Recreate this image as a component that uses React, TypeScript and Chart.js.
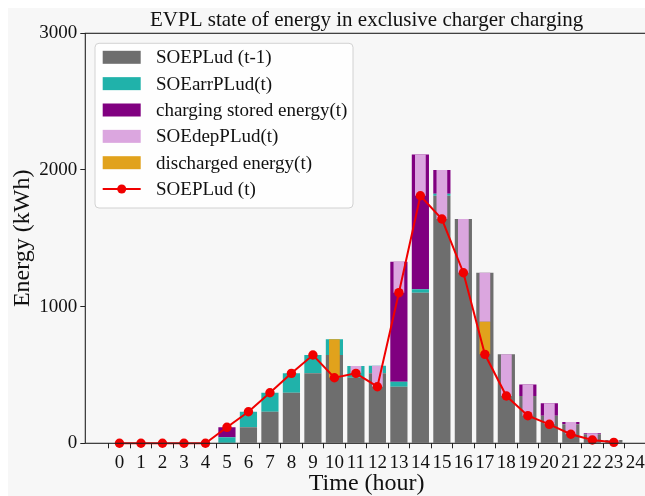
import React, { useEffect, useRef } from 'react';
import { Chart, registerables } from 'chart.js';

Chart.register(...registerables);

// ---- data ----
const hours = [0, 1, 2, 3, 4, 5, 6, 7, 8, 9, 10, 11, 12, 13, 14, 15, 16, 17, 18, 19, 20, 21, 22, 23];
const xTickValues = [0, 1, 2, 3, 4, 5, 6, 7, 8, 9, 10, 11, 12, 13, 14, 15, 16, 17, 18, 19, 20, 21, 22, 23, 24];
const yTickValues = [0, 1000, 2000, 3000];

const soePrev = [0, 0, 0, 0, 0, 0, 117, 231, 370, 512, 646, 480, 512, 414, 1102, 1811, 1641, 1248, 651, 346, 202, 139, 66, 24];
const soeArr = [0, 0, 0, 0, 0, 44, 114, 139, 142, 134, 115, 85, 56, 37, 25, 15, 0, 0, 0, 0, 0, 0, 0, 0];
const chargeStored = [0, 0, 0, 0, 0, 73, 0, 0, 0, 0, 0, 0, 0, 877, 987, 174, 0, 0, 0, 85, 91, 17, 7, 0];
const soeDep = [0, 0, 0, 0, 0, 0, 0, 0, 0, 0, 0, 53, 154, 226, 303, 359, 393, 358, 305, 229, 154, 90, 49, 17];
const discharged = [0, 0, 0, 0, 0, 0, 0, 0, 0, 0, 281, 0, 0, 0, 0, 0, 0, 239, 0, 0, 0, 0, 0, 0];
const soeNow = [0, 0, 0, 0, 0, 117, 231, 370, 512, 646, 480, 512, 414, 1102, 1811, 1641, 1248, 651, 346, 202, 139, 66, 24, 7];

const titleText = 'EVPL state of energy in exclusive charger charging';
const xTitle = 'Time (hour)';
const yTitle = 'Energy (kWh)';
const labelPrev = 'SOEPLud (t-1)';
const labelArr = 'SOEarrPLud(t)';
const labelCharge = 'charging stored energy(t)';
const labelDep = 'SOEdepPLud(t)';
const labelDis = 'discharged energy(t)';
const labelNow = 'SOEPLud (t)';

const FONT = '"Liberation Serif", "Times New Roman", serif';

const pts = (vals: number[]) => hours.map((h, i) => ({ x: h, y: vals[i] }));

const bgPlugin = {
  id: 'bgFill',
  beforeDraw(chart: any) {
    const ctx = chart.ctx;
    ctx.save();
    ctx.fillStyle = '#f7f7f7';
    ctx.fillRect(0, 0, chart.width, chart.height);
    ctx.restore();
  },
};

const framePlugin = {
  id: 'frame',
  afterDatasetsDraw(chart: any) {
    const { ctx, chartArea: ca } = chart;
    ctx.save();
    ctx.strokeStyle = '#222';
    ctx.lineWidth = 1.1;
    ctx.strokeRect(ca.left, ca.top, ca.right - ca.left, ca.bottom - ca.top);
    ctx.restore();
  },
};

const legendPlugin = {
  id: 'boxLegend',
  afterDraw(chart: any) {
    const { ctx, chartArea: ca } = chart;
    const items = chart.data.datasets
      .filter((d: any) => d.legendRank !== undefined)
      .sort((a: any, b: any) => a.legendRank - b.legendRank);
    const x0 = ca.left + 9.7;
    const y0 = ca.top + 10;
    const w = 258;
    const h = 164.7;
    const r = 4;
    ctx.save();
    ctx.beginPath();
    ctx.moveTo(x0 + r, y0);
    ctx.lineTo(x0 + w - r, y0);
    ctx.quadraticCurveTo(x0 + w, y0, x0 + w, y0 + r);
    ctx.lineTo(x0 + w, y0 + h - r);
    ctx.quadraticCurveTo(x0 + w, y0 + h, x0 + w - r, y0 + h);
    ctx.lineTo(x0 + r, y0 + h);
    ctx.quadraticCurveTo(x0, y0 + h, x0, y0 + h - r);
    ctx.lineTo(x0, y0 + r);
    ctx.quadraticCurveTo(x0, y0, x0 + r, y0);
    ctx.closePath();
    ctx.fillStyle = 'rgba(255,255,255,0.8)';
    ctx.fill();
    ctx.strokeStyle = '#d2d2d2';
    ctx.lineWidth = 1;
    ctx.stroke();
    items.forEach((d: any, i: number) => {
      const cy = y0 + 14 + i * 26.35;
      const px = x0 + 7.7;
      if (d.type === 'line') {
        ctx.strokeStyle = d.borderColor;
        ctx.lineWidth = 2;
        ctx.beginPath();
        ctx.moveTo(px, cy);
        ctx.lineTo(px + 38, cy);
        ctx.stroke();
        ctx.fillStyle = d.pointBackgroundColor;
        ctx.beginPath();
        ctx.arc(px + 19, cy, 4.5, 0, Math.PI * 2);
        ctx.fill();
      } else {
        ctx.fillStyle = d.backgroundColor;
        ctx.fillRect(px, cy - 6.5, 38, 13);
      }
      ctx.fillStyle = '#111';
      ctx.font = `19px ${FONT}`;
      ctx.textBaseline = 'middle';
      ctx.textAlign = 'left';
      ctx.fillText(d.label, x0 + 61, cy + 1);
    });
    ctx.restore();
  },
};

export default function App() {
  const ref = useRef<HTMLCanvasElement | null>(null);

  useEffect(() => {
    const canvas = ref.current;
    if (!canvas) return;
    const full = { categoryPercentage: 1, barPercentage: 0.8, grouped: false, borderWidth: 0, stack: 'full', order: 2 };
    const narrow = { categoryPercentage: 1, barPercentage: 0.5, grouped: false, borderWidth: 0, stack: 'narrow', order: 1 };
    const chart = new Chart(canvas, {
      type: 'bar',
      data: {
        datasets: [
          { ...full, label: labelPrev, legendRank: 0, data: pts(soePrev), backgroundColor: '#6e6e6e' },
          { ...full, label: labelArr, legendRank: 1, data: pts(soeArr), backgroundColor: '#20b2aa' },
          { ...full, label: labelCharge, legendRank: 2, data: pts(chargeStored), backgroundColor: '#800080' },
          { ...narrow, label: 'base', data: pts(soeNow), backgroundColor: 'rgba(0,0,0,0)' },
          { ...narrow, label: labelDis, legendRank: 4, data: pts(discharged), backgroundColor: '#e1a21c' },
          { ...narrow, label: labelDep, legendRank: 3, data: pts(soeDep), backgroundColor: '#dba6df' },
          {
            type: 'line',
            label: labelNow,
            legendRank: 5,
            data: pts(soeNow),
            borderColor: '#f00000',
            backgroundColor: '#f00000',
            pointBackgroundColor: '#f00000',
            pointBorderWidth: 0,
            pointRadius: 4.7,
            borderWidth: 2,
            stack: 'line',
            order: 0,
            clip: false,
          },
        ] as any,
      },
      options: {
        animation: false,
        responsive: false,
        devicePixelRatio: 1,
        layout: { padding: { left: 0, right: 5, top: 0, bottom: 0 } },
        plugins: {
          legend: { display: false },
          tooltip: { enabled: false },
          title: {
            display: true,
            fullSize: false,
            text: titleText,
            color: '#111',
            font: { family: FONT, size: 21, weight: 'normal', lineHeight: 1.2 },
            padding: { top: 0, bottom: 0.1 },
          },
        },
        scales: {
          x: {
            type: 'linear',
            min: -1.59,
            max: 24.59,
            offset: false,
            afterBuildTicks: (axis: any) => {
              axis.ticks = xTickValues.map((v) => ({ value: v }));
            },
            afterFit: (axis: any) => {
              axis.height = 52.7;
            },
            ticks: {
              autoSkip: false,
              maxRotation: 0,
              minRotation: 0,
              padding: 3,
              color: '#111',
              font: { family: FONT, size: 19 },
              callback: (v: any) => String(v),
            },
            grid: { drawOnChartArea: false, drawTicks: true, tickLength: 5, tickColor: '#222', tickWidth: 1 },
            border: { display: false },
            title: { display: true, text: xTitle, color: '#111', font: { family: FONT, size: 24, lineHeight: 1.0 }, padding: 0 },
          },
          y: {
            type: 'linear',
            stacked: true,
            min: 0,
            max: 3000,
            afterBuildTicks: (axis: any) => {
              axis.ticks = yTickValues.map((v) => ({ value: v }));
            },
            afterFit: (axis: any) => {
              axis.width = 77.3;
            },
            ticks: {
              padding: 3,
              color: '#111',
              font: { family: FONT, size: 19 },
              callback: (v: any) => String(v),
            },
            grid: { drawOnChartArea: false, drawTicks: true, tickLength: 5, tickColor: '#222', tickWidth: 1 },
            border: { display: false },
            title: { display: true, text: yTitle, color: '#111', font: { family: FONT, size: 24, lineHeight: 1.2 }, padding: 0 },
          },
        },
      },
      plugins: [bgPlugin, framePlugin, legendPlugin],
    } as any);
    return () => chart.destroy();
  }, []);

  return (
    <div style={{ position: 'fixed', left: 8, top: 8, width: 637, height: 488, overflow: 'hidden' }}>
      <canvas ref={ref} width={645} height={488} style={{ display: 'block', width: 645, height: 488 }} />
    </div>
  );
}
